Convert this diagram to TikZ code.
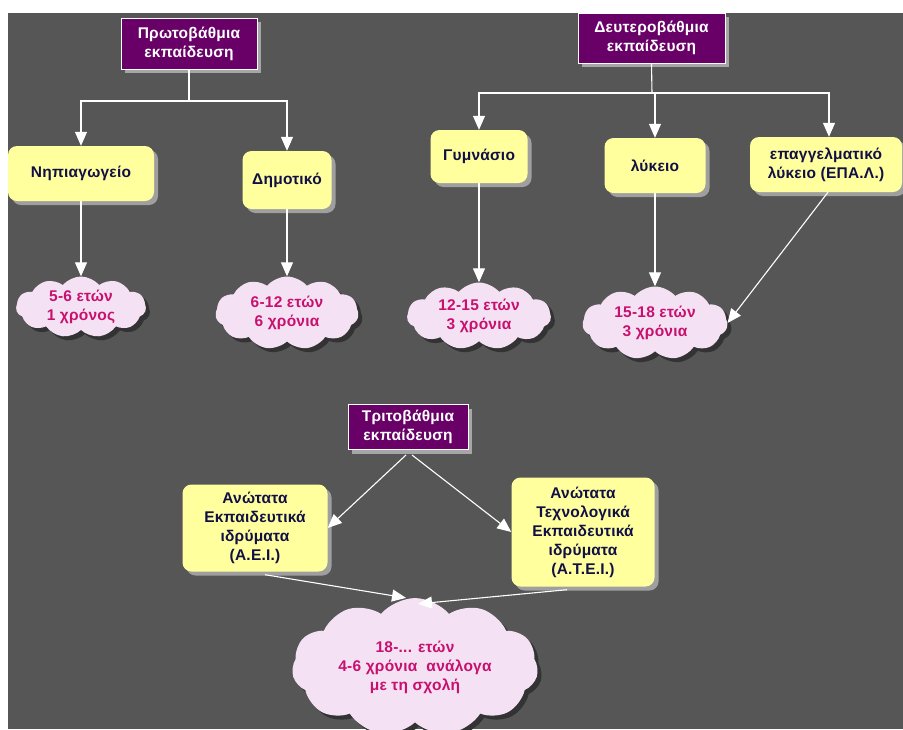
\documentclass[tikz,border=0pt]{standalone}
\usepackage{fontspec}
\setmainfont{Liberation Sans}[LetterSpace=1.5]
\usepackage{tikz}
\usetikzlibrary{arrows.meta}
\usetikzlibrary{shapes.symbols}
\usetikzlibrary{shadows}

\definecolor{bggray}{RGB}{86,86,86}
\definecolor{edupurple}{RGB}{104,0,104}
\definecolor{schoolyellow}{RGB}{255,255,158}
\definecolor{schooltext}{RGB}{16,16,70}
\definecolor{cloudpink}{RGB}{244,226,244}
\definecolor{cloudtext}{RGB}{200,16,110}

\begin{document}
\begin{tikzpicture}
    [
    x=1pt, y=-1pt,
    txt/.style={font=\bfseries\fontsize{15.5}{19}\selectfont, align=center, inner sep=0pt},
    edu/.style={txt, rectangle, draw=white, line width=1pt, fill=edupurple, text=white,
      drop shadow={shadow xshift=4pt, shadow yshift=-4pt, fill=gray!70, opacity=1}},
    school/.style={txt, rectangle, rounded corners=9pt, fill=schoolyellow, text=schooltext,
      drop shadow={shadow xshift=4pt, shadow yshift=-4pt, fill=gray!75, opacity=1}},
    age/.style={txt, cloud, cloud puffs=11, cloud puff arc=100, aspect=2.3, fill=cloudpink, text=cloudtext,
      drop shadow={shadow xshift=4pt, shadow yshift=-4pt, fill=gray!40!black, opacity=1}},
    line/.style={draw=white, line width=1.1pt},
    arr/.style={line, -{Triangle[width=12pt,length=14pt,fill=white]}},
    ]
    \useasboundingbox (0,0) rectangle (903,729);
    \fill[white] (0,0) rectangle (903,729);
    \fill[bggray] (8,13) rectangle (903,729);

    \node (prim) at (189,43.5) [edu, minimum width=136pt, minimum height=51pt] {Πρωτοβάθμια\\εκπαίδευση};
    \node (sec) at (651.5,38) [edu, minimum width=147pt, minimum height=50pt] {Δευτεροβάθμια\\εκπαίδευση};
    \node (ter) at (408,427) [edu, minimum width=120pt, minimum height=45pt] {Τριτοβάθμια\\εκπαίδευση};

    \node (nip) at (81,173.5) [school, minimum width=146pt, minimum height=55pt] {Νηπιαγωγείο};
    \node (dim) at (287,180) [school, minimum width=89pt, minimum height=58pt] {Δημοτικό};
    \node (gym) at (479,156.5) [school, minimum width=97pt, minimum height=53pt] {Γυμνάσιο};
    \node (lyk) at (655,165.5) [school, minimum width=101pt, minimum height=55pt] {λύκειο};
    \node (epal) at (826,164.5) [school, minimum width=152pt, minimum height=55pt] {επαγγελματικό\\λύκειο (ΕΠΑ.Λ.)};
    \node (aei) at (255,528) [school, minimum width=145pt, minimum height=87pt] {Ανώτατα\\Εκπαιδευτικά\\ιδρύματα\\(Α.Ε.Ι.)};
    \node (tei) at (583,532) [school, minimum width=143pt, minimum height=109pt] {Ανώτατα\\Τεχνολογικά\\Εκπαιδευτικά\\ιδρύματα\\(Α.Τ.Ε.Ι.)};

    \node (y1) at (81,307) [age, minimum width=130pt, minimum height=61pt] {5-6 ετών\\1 χρόνος};
    \node (y2) at (287,313) [age, minimum width=143pt, minimum height=73pt] {6-12 ετών\\6 χρόνια};
    \node (y3) at (479,316) [age, minimum width=144pt, minimum height=67pt] {12-15 ετών\\3 χρόνια};
    \node (y4) at (655,323) [age, minimum width=145pt, minimum height=73pt] {15-18 ετών\\3 χρόνια};
    \node (y5) at (415,667) [age, aspect=1.9, minimum width=246pt, minimum height=120pt] {18-... ετών\\4-6 χρόνια\ \ ανάλογα\\με τη σχολή};

    \coordinate (j1) at (189,101);
    \coordinate (j2) at (652,93);
    \draw [line] (prim.south) -- (j1);
    \draw [arr] (j1) -| (nip.north);
    \draw [arr] (j1) -| (dim.north);
    \draw [line] (sec.south) -- (j2);
    \draw [arr] (j2) -| (gym.north);
    \draw [arr] (j2) -| (lyk.north);
    \draw [arr] (j2) -| ([xshift=3pt]epal.north);

    \draw [arr] (nip) -- (y1);
    \draw [arr] (dim) -- (y2);
    \draw [arr] (gym) -- (y3);
    \draw [arr] (lyk) -- (y4);
    \draw [arr] ([xshift=2pt]epal.south) -- (y4.east);

    \draw [arr] ([xshift=-2pt,yshift=-5pt]ter.south) -- (aei.east);
    \draw [arr] ([xshift=4pt,yshift=-5pt]ter.south) -- (tei.west);
    \draw [arr] ([xshift=10pt,yshift=-3pt]aei.south) -- ([xshift=-9pt]y5.north);
    \draw [arr] ([xshift=-16pt,yshift=-3pt]tei.south) -- ([xshift=3pt,yshift=-6pt]y5.north);
  \end{tikzpicture}
\end{document}
